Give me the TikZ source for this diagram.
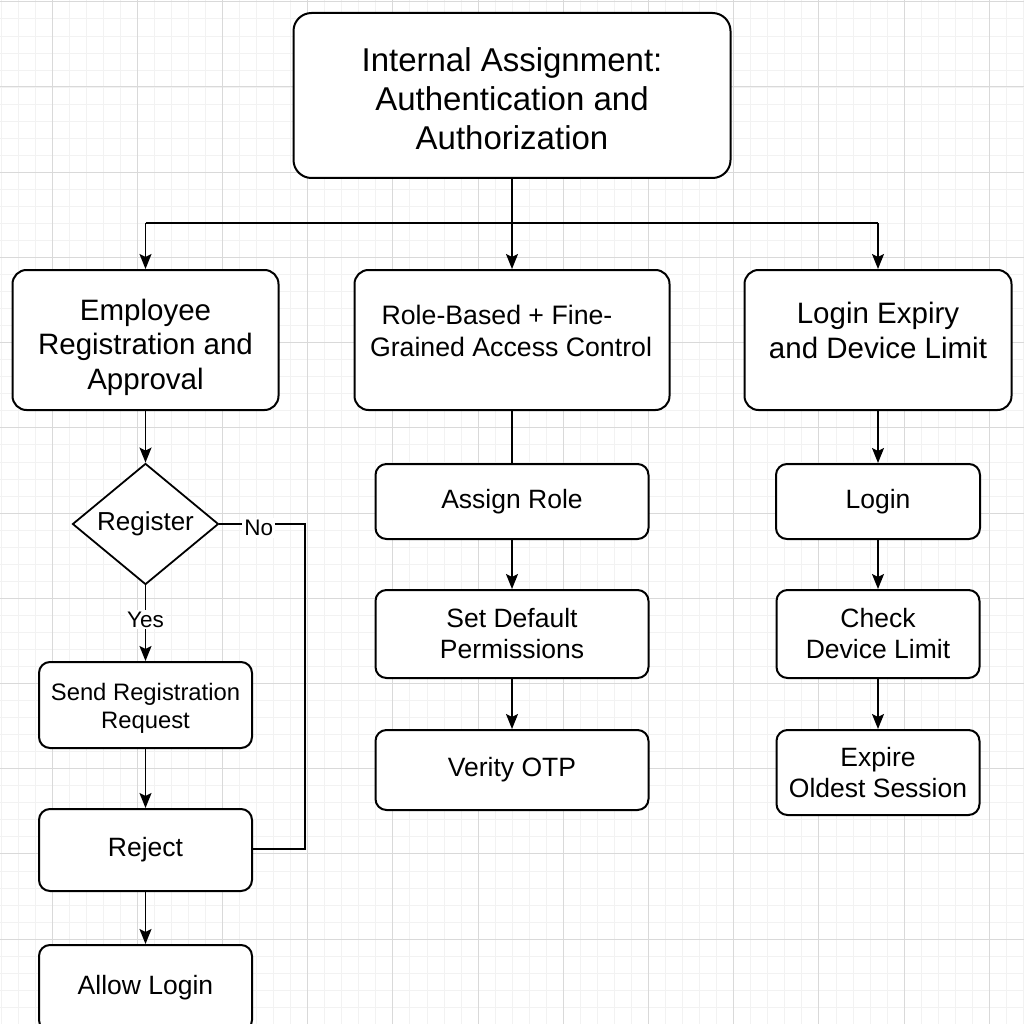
\documentclass[tikz,border=0pt]{standalone}
\usepackage{fontspec}
\setmainfont{Liberation Sans}
\usetikzlibrary{shapes.geometric,arrows.meta}
\newcommand\fTitle{\fontsize{33}{39}\selectfont}
\newcommand\fBig{\fontsize{29.5}{34.5}\selectfont}
\newcommand\fRole{\fontsize{26.7}{32}\selectfont}
\newcommand\fMid{\fontsize{26.5}{31}\selectfont}
\newcommand\fSend{\fontsize{23.8}{28}\selectfont}
\newcommand\fReg{\fontsize{26}{30}\selectfont}
\newcommand\fLab{\fontsize{22.5}{26}\selectfont}
\begin{document}
\begin{tikzpicture}[x=1pt,y=-1pt,
  box/.style={draw=black, line width=2pt, rounded corners=14pt, fill=white, inner sep=0pt, align=center},
  sbox/.style={box, rounded corners=11pt},
  txt/.style={inner sep=0pt, align=center},
  conn/.style={line width=1.7pt, draw=black},
  arr/.style={conn, -{Stealth[length=15pt,width=12pt,inset=3pt]}},
  lab/.style={fill=white, inner sep=2pt, font=\fLab},
  minorg/.style={draw=black!5, line width=0.7pt},
  majorg/.style={draw=black!15, line width=1pt}]
\clip (0,0) rectangle (1024,1024);
\fill[white] (0,0) rectangle (1024,1024);
% grid
\foreach \i in {-4,...,58} \draw[minorg] ({52+17.04*\i},0) -- ({52+17.04*\i},1024);
\foreach \i in {-6,...,56} \draw[minorg] (0,{87+17.04*\i}) -- (1024,{87+17.04*\i});
\foreach \i in {-1,...,12} \draw[majorg] ({52+85.2*\i},0) -- ({52+85.2*\i},1024);
\foreach \i in {-2,...,11} \draw[majorg] (0,{87+85.2*\i}) -- (1024,{87+85.2*\i});

% title
\node[box, rounded corners=18pt, minimum width=437, minimum height=165] (title) at (512,95.5) {};
\node[txt, font=\fTitle] (title-t) at (512,98.5) {Internal Assignment:\\Authentication and\\Authorization};

% top row
\node[box, minimum width=266, minimum height=140] (emp) at (145.5,340) {};
\node[txt, font=\fBig] (emp-t) at (145.5,347) {Employee\\Registration and\\Approval};
\node[box, minimum width=315, minimum height=140] (role) at (512,340) {};
\node[txt, font=\fRole] (role-t) at (511,330.5) {Role-Based + Fine-\hspace*{28pt}\\Grained Access Control};
\node[box, minimum width=267, minimum height=140] (exp) at (878,340) {};
\node[txt, font=\fBig] (exp-t) at (878,330.5) {Login Expiry\\and Device Limit};

% branch
\coordinate (bl) at (145.5,223);
\coordinate (br) at (878,223);
\coordinate (bm) at (512,223);
\draw[conn] (title.south) -- (bm);
\draw[conn] (bl) -- (br);
\draw[arr] (bl) -- (emp.north);
\draw[arr] (bm) -- (role.north);
\draw[arr] (br) -- (exp.north);

% left column
\node[diamond, draw=black, line width=1.8pt, fill=white, minimum width=146, minimum height=118, inner sep=0pt, font=\fReg] (reg) at (145.5,524) {Register};
\node[sbox, minimum width=213, minimum height=86] (send) at (145.5,705) {};
\node[txt, font=\fSend] (send-t) at (145.5,708) {Send Registration\\Request};
\node[sbox, minimum width=213, minimum height=82, font=\fMid] (rej) at (145.5,850) {Reject};
\node[sbox, minimum width=213, minimum height=86, font=\fMid] (allow) at (145.5,988) {Allow Login};

\draw[arr] (emp.south) -- (reg.north);
\draw[arr] (reg.south) -- node[lab, pos=0.45] (yes) {Yes} (send.north);
\coordinate (nc) at (305,524);
\coordinate (nd) at (305,849);
\draw[conn] (reg.east) -- node[lab, pos=0.46, yshift=-4pt] (no) {No} (nc) -- (nd) -- (rej.east |- nd);
\draw[arr] (send.south) -- (rej.north);
\draw[arr] (rej.south) -- (allow.north);

% middle column
\node[sbox, minimum width=273, minimum height=75, font=\fMid] (assign) at (512,501.5) {Assign Role};
\node[sbox, minimum width=273, minimum height=88, font=\fMid] (perm) at (512,634) {Set Default\\Permissions};
\node[sbox, minimum width=273, minimum height=80, font=\fMid] (otp) at (512,770) {Verity OTP};
\draw[conn] (role.south) -- (assign.north);
\draw[arr] (assign.south) -- (perm.north);
\draw[arr] (perm.south) -- (otp.north);

% right column
\node[sbox, minimum width=204, minimum height=75, font=\fMid] (login) at (878,501.5) {Login};
\node[sbox, minimum width=203, minimum height=88, font=\fMid] (check) at (878,634) {Check\\Device Limit};
\node[sbox, minimum width=203, minimum height=85, font=\fMid] (expire) at (878,772.5) {Expire\\Oldest Session};
\draw[arr] (exp.south) -- (login.north);
\draw[arr] (login.south) -- (check.north);
\draw[arr] (check.south) -- (expire.north);
\end{tikzpicture}
\end{document}
